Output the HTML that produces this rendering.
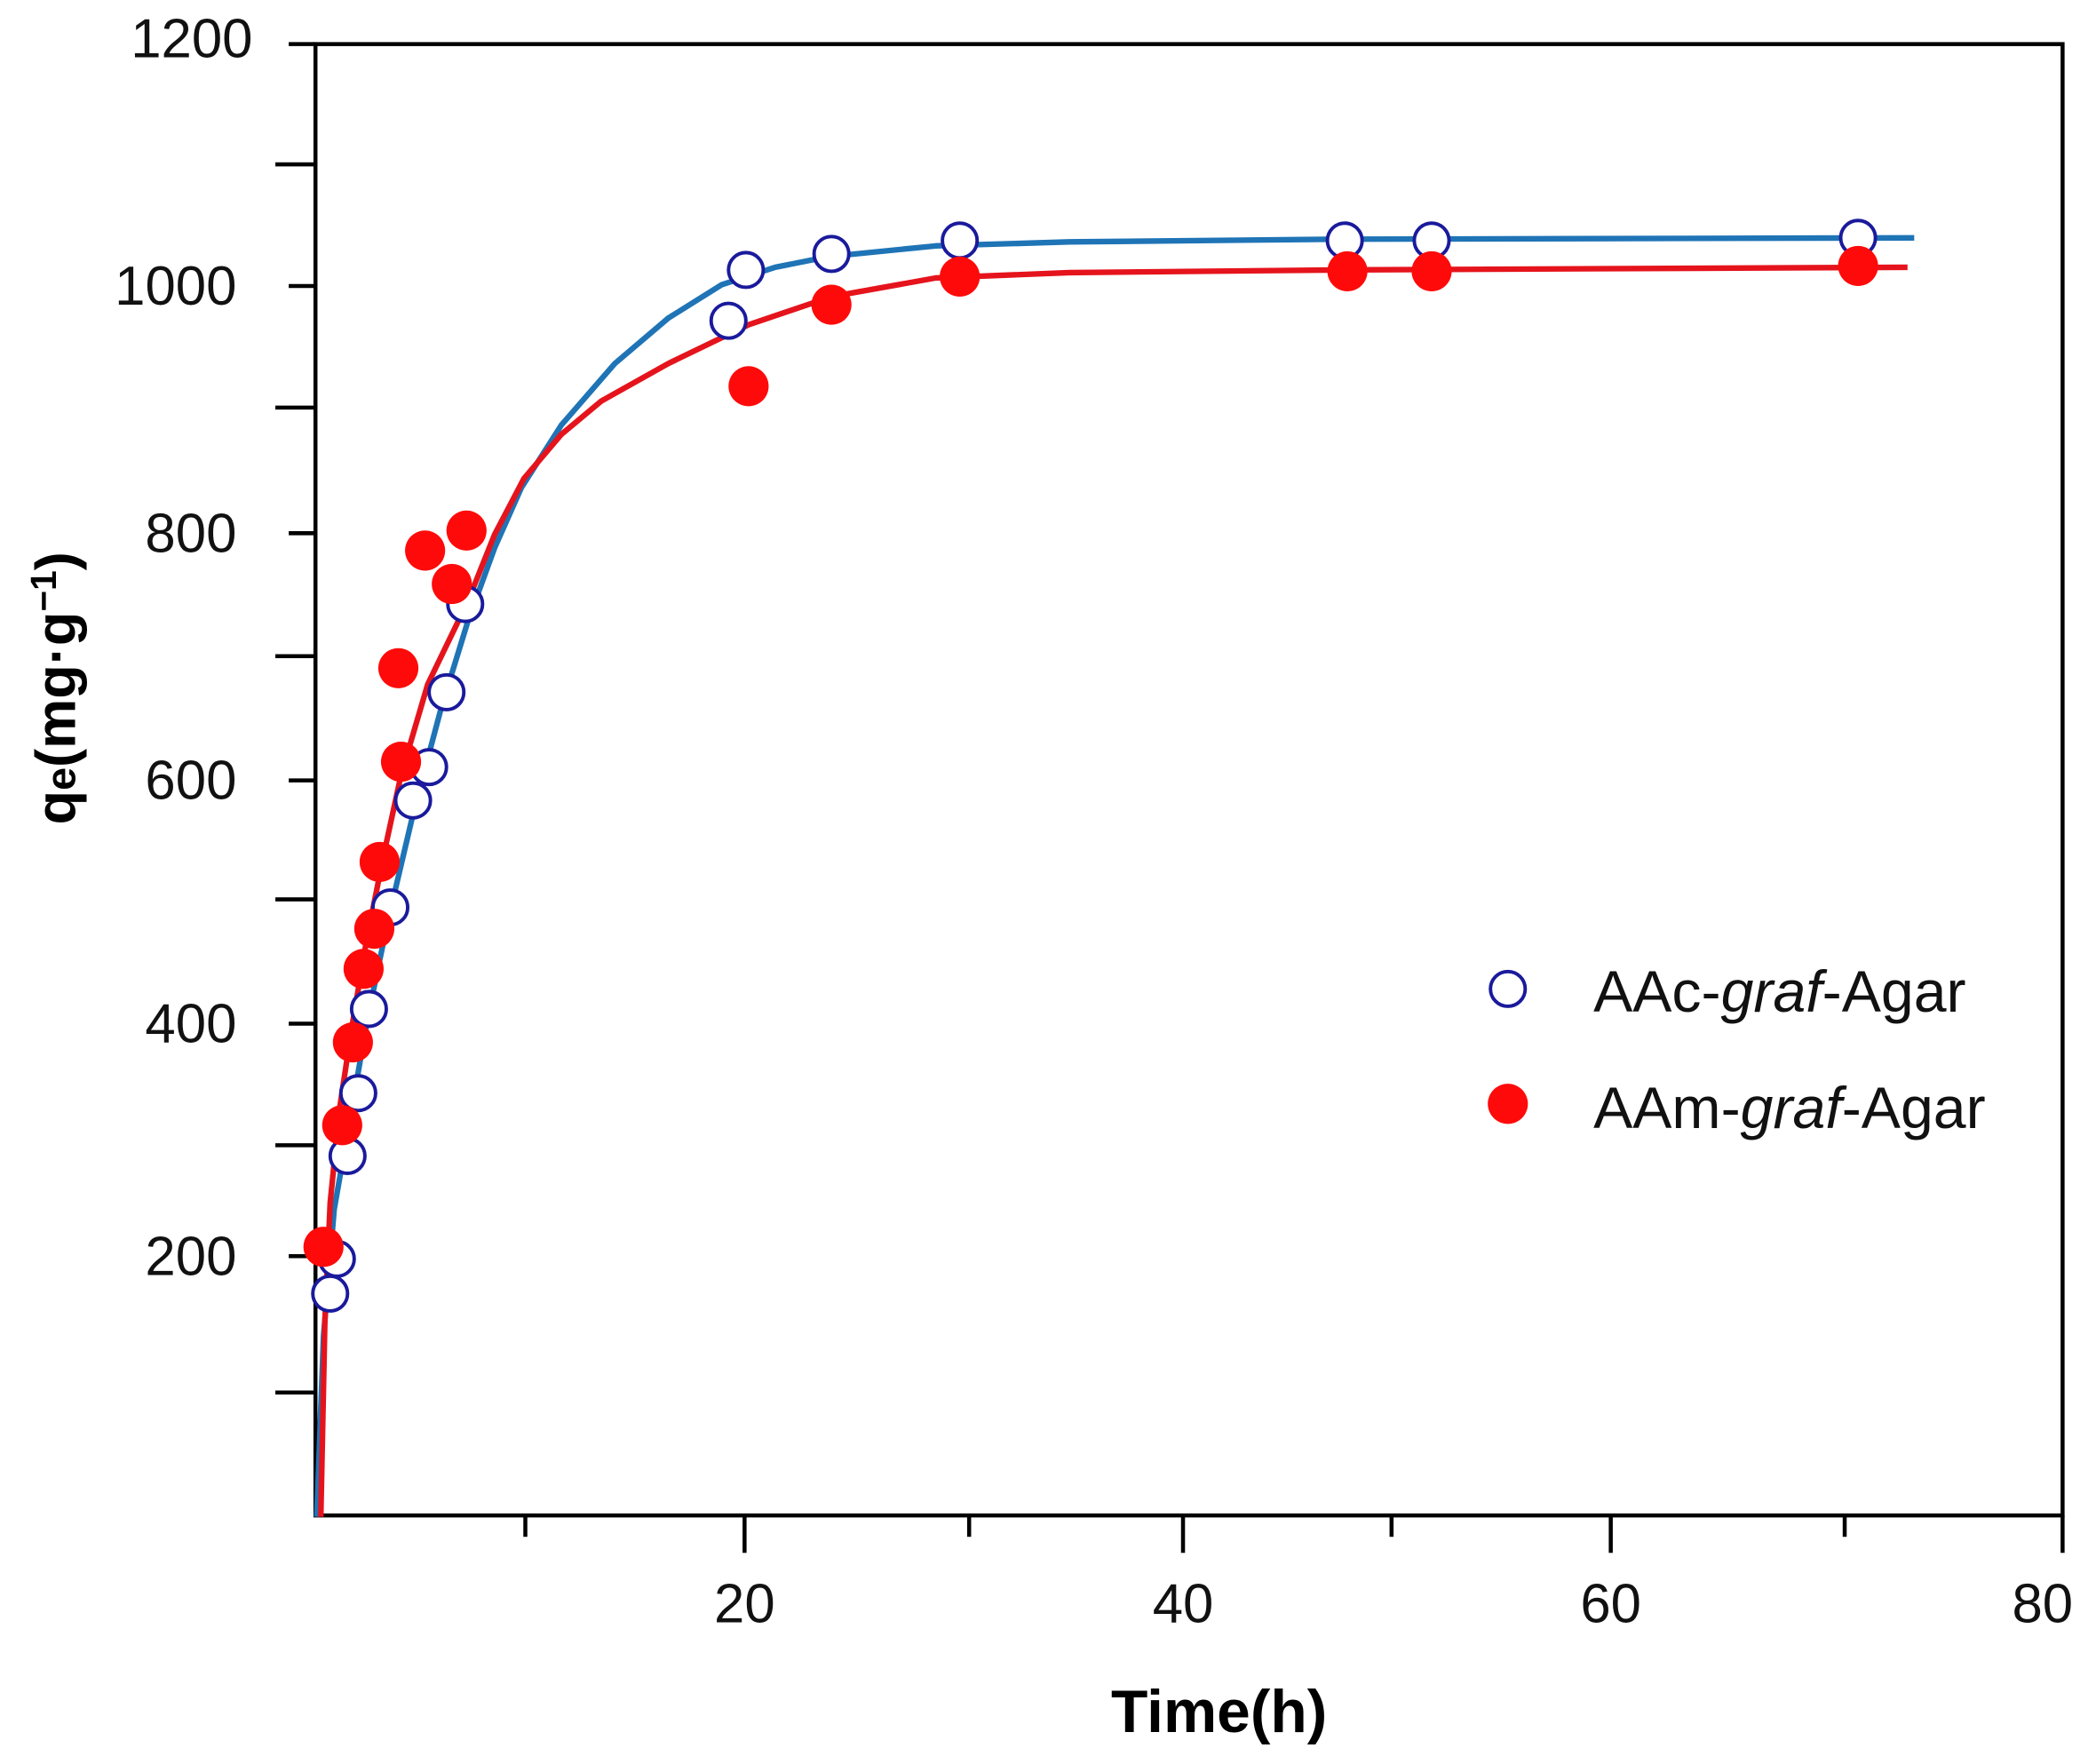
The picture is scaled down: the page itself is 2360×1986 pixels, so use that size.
<!DOCTYPE html>
<html><head><meta charset="utf-8"><style>html,body{margin:0;padding:0;background:#fff}svg{display:block}</style></head>
<body>
<svg width="2360" height="1986" viewBox="0 0 1568 1320" preserveAspectRatio="none" xmlns="http://www.w3.org/2000/svg" font-family="Liberation Sans, sans-serif">
<rect width="1568" height="1320" fill="#fff"/>
<rect x="236" y="33" width="1307" height="1101" fill="none" stroke="#000" stroke-width="3"/>
<g stroke="#000" stroke-width="3">
<line x1="216" y1="33" x2="236" y2="33"/>
<line x1="206" y1="123" x2="236" y2="123"/>
<line x1="216" y1="214" x2="236" y2="214"/>
<line x1="206" y1="305" x2="236" y2="305"/>
<line x1="216" y1="399" x2="236" y2="399"/>
<line x1="206" y1="491" x2="236" y2="491"/>
<line x1="216" y1="584" x2="236" y2="584"/>
<line x1="206" y1="673" x2="236" y2="673"/>
<line x1="216" y1="766" x2="236" y2="766"/>
<line x1="206" y1="857" x2="236" y2="857"/>
<line x1="216" y1="940" x2="236" y2="940"/>
<line x1="206" y1="1042" x2="236" y2="1042"/>
<line x1="393" y1="1134" x2="393" y2="1150"/>
<line x1="557" y1="1134" x2="557" y2="1162"/>
<line x1="725" y1="1134" x2="725" y2="1150"/>
<line x1="885" y1="1134" x2="885" y2="1162"/>
<line x1="1041" y1="1134" x2="1041" y2="1150"/>
<line x1="1205" y1="1134" x2="1205" y2="1162"/>
<line x1="1380" y1="1134" x2="1380" y2="1150"/>
<line x1="1543" y1="1134" x2="1543" y2="1162"/>
</g>
<g font-size="41" fill="#111" text-anchor="end">
<text x="189" y="43">1200</text>
<text x="177" y="228">1000</text>
<text x="177" y="413">800</text>
<text x="177" y="598">600</text>
<text x="177" y="780">400</text>
<text x="177" y="954">200</text>
</g>
<g font-size="41" fill="#111" text-anchor="middle">
<text x="557" y="1214">20</text>
<text x="885" y="1214">40</text>
<text x="1205" y="1214">60</text>
<text x="1528" y="1214">80</text>
</g>
<text x="912" y="1296" font-size="45" font-weight="bold" text-anchor="middle" fill="#000">Time(h)</text>
<text transform="translate(56,515) rotate(-90)" font-size="42" font-weight="bold" text-anchor="middle" fill="#000">q<tspan font-size="31">e</tspan>(mg·g<tspan font-size="27" dy="-14">−1</tspan><tspan dy="14">)</tspan></text>
<polyline fill="none" stroke="#1f74b6" stroke-width="4.2" stroke-linejoin="round" points="237,1135 242,1000 250,905 260,848 275,762 290,690 310,605 330,530 350,465 370,410 390,365 420,318 460,272 500,238 540,213 580,200 620,192 700,184 800,181 1000,179 1432,178"/>
<polyline fill="none" stroke="#e5141c" stroke-width="4.2" stroke-linejoin="round" points="240,1135 243,990 247,900 254,830 263,770 274,705 287,640 300,580 320,512 350,450 370,400 392,358 420,325 450,300 500,272 560,243 622,222 700,208 800,204 1000,202 1427,200"/>
<g fill="#fff" stroke="#1a1a9c" stroke-width="2.6">
<circle cx="247" cy="968" r="13"/><circle cx="252" cy="942" r="13"/><circle cx="260" cy="865" r="13"/><circle cx="268" cy="818" r="13"/><circle cx="276" cy="755" r="13"/><circle cx="292" cy="679" r="13"/><circle cx="309" cy="599" r="13"/><circle cx="321" cy="574" r="13"/><circle cx="334" cy="518" r="13"/><circle cx="348" cy="452" r="13"/><circle cx="545" cy="240" r="13"/><circle cx="558" cy="202" r="13"/><circle cx="622" cy="190" r="13"/><circle cx="718" cy="180" r="13"/><circle cx="1006" cy="180" r="13"/><circle cx="1071" cy="180" r="13"/><circle cx="1390" cy="178" r="13"/>
</g>
<g fill="#ff0a0a">
<circle cx="242" cy="933" r="15"/><circle cx="256" cy="842" r="15"/><circle cx="264" cy="780" r="15"/><circle cx="272" cy="725" r="15"/><circle cx="280" cy="695" r="15"/><circle cx="284" cy="645" r="15"/><circle cx="300" cy="570" r="15"/><circle cx="298" cy="500" r="15"/><circle cx="318" cy="412" r="15"/><circle cx="338" cy="437" r="15"/><circle cx="349" cy="397" r="15"/><circle cx="560" cy="289" r="15"/><circle cx="622" cy="228" r="15"/><circle cx="718" cy="207" r="15"/><circle cx="1008" cy="203" r="15"/><circle cx="1071" cy="203" r="15"/><circle cx="1390" cy="199" r="15"/>
</g>
<circle cx="1128" cy="740" r="13" fill="#fff" stroke="#1a1a9c" stroke-width="2.6"/>
<circle cx="1128" cy="826" r="15" fill="#ff0a0a"/>
<g font-size="44" fill="#111">
<text x="1192" y="757">AAc-<tspan font-style="italic">graf</tspan>-Agar</text>
<text x="1192" y="844">AAm-<tspan font-style="italic">graf</tspan>-Agar</text>
</g>
</svg>
</body></html>
